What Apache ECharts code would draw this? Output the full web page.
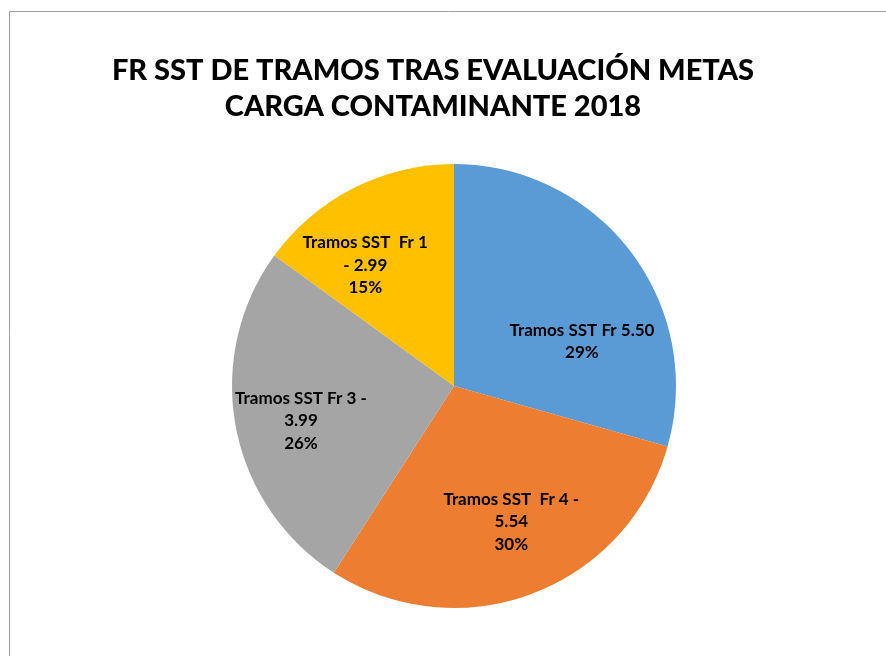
<!DOCTYPE html>
<html>
<head>
<meta charset="utf-8">
<script src="https://cdn.jsdelivr.net/npm/echarts@6/dist/echarts.min.js"></script>
<style>html,body{margin:0;padding:0;background:#fff;}#c{width:886px;height:656px;}</style>
</head>
<body>
<div id="c"></div>
<script>
const titleLines = ['FR SST DE TRAMOS TRAS EVALUACIÓN METAS', 'CARGA CONTAMINANTE 2018'];
const categories = ['Tramos SST Fr 5.50', 'Tramos SST  Fr 4 -\n5.54', 'Tramos SST Fr 3 -\n3.99', 'Tramos SST  Fr 1\n- 2.99'];
const values = [29.4, 29.7, 25.9, 15.0];
const colors = ['#5B9BD5', '#ED7D31', '#A5A5A5', '#FFC000'];
const labelOffsets = [[37, 24], [17, 29], [-41, 14], [-37, -19]];

const chart = echarts.init(document.getElementById('c'), null, {renderer: 'canvas'});
chart.setOption({
  backgroundColor: '#fff',
  animation: false,
  title: {
    text: titleLines.join('\n'),
    left: 428, top: 48, textAlign: 'center',
    textStyle: {fontFamily: 'Lato', fontWeight: 900, fontSize: 29, lineHeight: 36, color: '#000'}
  },
  graphic: [{
    type: 'rect', silent: true, z: -1,
    shape: {x: 9.5, y: 11.5, width: 1000, height: 1000},
    style: {fill: 'none', stroke: '#a0a0a0', lineWidth: 1}
  }],
  series: [{
    type: 'pie',
    center: [454, 386],
    radius: 222,
    startAngle: 90,
    clockwise: true,
    percentPrecision: 0,
    avoidLabelOverlap: false,
    itemStyle: {borderWidth: 0},
    label: {
      show: true, position: 'inside',
      formatter: '{b}\n{d}%',
      fontFamily: 'Lato', fontWeight: 'bold', fontSize: 17, lineHeight: 22.5,
      color: '#000', align: 'center'
    },
    labelLine: {show: false},
    emphasis: {disabled: true},
    labelLayout: function (p) {
      const o = labelOffsets[p.dataIndex];
      return {dx: o[0], dy: o[1]};
    },
    data: categories.map((n, i) => ({name: n, value: values[i], itemStyle: {color: colors[i]}}))
  }]
});
</script>
</body>
</html>
